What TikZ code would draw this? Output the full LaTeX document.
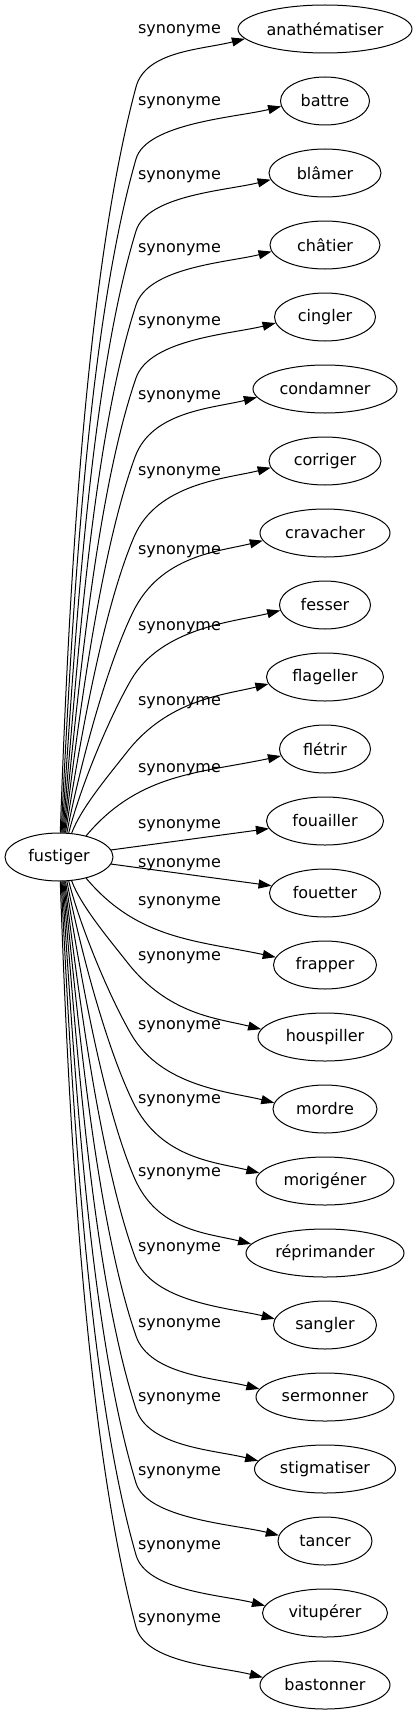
\documentclass[tikz,border=0pt]{standalone}
\usepackage{fontspec}
\setmainfont{DejaVu Sans}
\usetikzlibrary{arrows.meta,shapes.geometric}
\begin{document}
\begin{tikzpicture}[x=1pt,y=-1pt,
  word/.style={ellipse, draw, line width=1pt, inner sep=0pt, minimum height=48pt, font=\fontsize{16pt}{19pt}\selectfont},
  lbl/.style={inner sep=0pt, font=\fontsize{16pt}{19pt}\selectfont},
  syn/.style={line width=1pt, -{Triangle[length=13pt,width=9pt]}}]
\fill[white] (0,0) rectangle (418,1715);
\path[use as bounding box] (0,0) rectangle (418,1715);
\node[word, minimum width=108pt] (f) at (59,857) {fustiger};
\foreach \i/\w/\ww in {1/anathématiser/174, 2/battre/89, 3/blâmer/112, 4/châtier/110,
  5/cingler/101, 6/condamner/144, 7/corriger/112, 8/cravacher/130, 9/fesser/91,
  10/flageller/117, 11/flétrir/91, 12/fouailler/117, 13/fouetter/111, 14/frapper/103,
  15/houspiller/134, 16/mordre/104, 17/morigéner/138, 18/réprimander/158, 19/sangler/103,
  20/sermonner/138, 21/stigmatiser/141, 22/tancer/94, 23/vitupérer/125, 24/bastonner/130}
  \node[word, minimum width=\ww pt] (t\i) at (325,{29+72*(\i-1)}) {\w};
\foreach \i/\ly in {1/31, 2/103, 3/177, 4/250, 5/323, 6/397, 7/473, 8/552, 9/628, 10/703,
  11/770, 12/826, 13/865, 14/903, 15/958, 16/1027, 17/1101, 18/1174, 19/1249, 20/1325,
  21/1399, 22/1473, 23/1547, 24/1620}
  \node[lbl] (l\i) at (179.5,\ly) {synonyme};
% upper edges: knee offset above centre, knee x, start anchor, start angle, knee angle
\foreach \i/\off/\kx/\sa/\ao/\ak in {1/770/136/87/88/75, 2/698/136/85/87/74, 3/626/136/83/86/73,
  4/552/136/81/85/72, 5/479/136/79/84/71, 6/400/135/77/83/70, 7/320/134/75/81/67,
  8/245/133/72/79/64, 9/177/131/68/76/60, 10/105/127/62/70/52} {
  \pgfmathsetmacro\ky{857-\off}
  \pgfmathsetmacro\dA{(\ky-(29+72*(\i-1))-22)/sin(\ak)}
  \pgfmathtruncatemacro\ain{\ak+180}
  \coordinate (k\i) at (\kx,\ky);
  \draw[syn] (f.\sa) to[out=\ao,in=\ain,looseness=0.7] (k\i)
    .. controls +(\ak:\dA pt) and +(194:45pt) .. (t\i.187);
}
% lower edges
\foreach \i/\off/\kx/\sa/\ao/\ak in {24/770/136/-87/-88/-75, 23/698/136/-85/-87/-74,
  22/626/136/-83/-86/-73, 21/552/136/-81/-85/-72, 20/479/136/-79/-84/-71,
  19/400/135/-77/-83/-70, 18/320/134/-75/-81/-67, 17/245/133/-72/-79/-64,
  16/177/131/-68/-76/-60, 15/105/127/-62/-70/-52} {
  \pgfmathsetmacro\ky{857+\off}
  \pgfmathsetmacro\dA{((29+72*(\i-1))-\ky-22)/sin(-\ak)}
  \pgfmathtruncatemacro\ain{\ak+180}
  \coordinate (k\i) at (\kx,\ky);
  \draw[syn] (f.\sa) to[out=\ao,in=\ain,looseness=0.7] (k\i)
    .. controls +(\ak:\dA pt) and +(166:45pt) .. (t\i.173);
}
% middle edges
\draw[syn] (f.38) to[out=50,in=192] (t11.189);
\draw[syn] (f) -- (t12);
\draw[syn] (f) -- (t13);
\draw[syn] (f.-38) to[out=-50,in=168] (t14.171);
\end{tikzpicture}
\end{document}
